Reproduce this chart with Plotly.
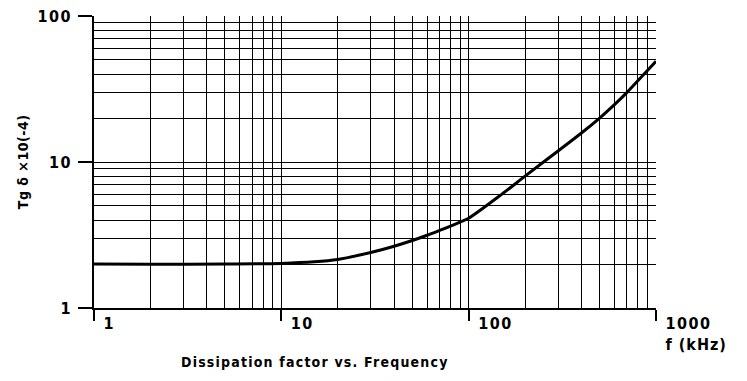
import plotly.graph_objects as go

freq_khz = [1, 2, 5, 10, 15, 20, 30, 40, 50, 60, 70, 80, 90, 100, 150, 200, 300, 400, 500, 600, 700, 800, 900, 1000]
tg_delta = [2.0, 1.99, 2.0, 2.02, 2.07, 2.15, 2.4, 2.65, 2.9, 3.15, 3.4, 3.64, 3.88, 4.12, 6.0, 8.0, 11.9, 15.8, 20.0, 24.7, 30.0, 36.0, 42.3, 49.0]

x_major = [1, 10, 100, 1000]
x_major_text = ["1", "10", "100", "1000"]
x_unit = "f (kHz)"
y_major = [1, 10, 100]
y_major_text = ["1", "10", "100"]
minor_x = [m * d for d in (1, 10, 100) for m in range(2, 10)]
minor_y = [m * d for d in (1, 10) for m in range(2, 10)]

title_text = "Dissipation factor vs. Frequency"
y_title = "Tg δ ×10(-4)"

FONT = "DejaVu Sans Condensed, Liberation Sans Narrow, Arial Narrow, sans-serif"

def sp(t, ls=2):
    return f'<span style="letter-spacing:{ls}px">{t}</span>'

xt = [sp(t, 1.5) for t in x_major_text]
xt[-1] = xt[-1] + "<br>" + sp(x_unit, 1.0)

fig = go.Figure()
fig.add_trace(go.Scatter(
    x=freq_khz, y=tg_delta, mode="lines",
    line=dict(color="black", width=3, shape="spline", smoothing=0.8),
    hoverinfo="skip", showlegend=False,
))

fig.update_xaxes(
    type="log", range=[0, 3], automargin=False,
    tickmode="array", tickvals=x_major, ticktext=xt,
    ticks="outside", ticklen=11, tickwidth=1.5, tickcolor="black",
    ticklabelposition="outside right", ticklabelshift=8,
    ticklabeloverflow="allow",
    showline=True, linecolor="black", linewidth=1.5, mirror=False,
    showgrid=True, gridcolor="black", gridwidth=1.2,
    minor=dict(tickmode="array", tickvals=minor_x, showgrid=True,
               gridcolor="black", gridwidth=1.2, ticks=""),
    tickfont=dict(family=FONT, size=16, color="black", weight="bold"),
    zeroline=False,
)
fig.update_yaxes(
    type="log", range=[0, 2], automargin=False,
    tickmode="array", tickvals=y_major, ticktext=[sp(t, 1.5) for t in y_major_text],
    ticks="outside", ticklen=14, tickwidth=1.5, tickcolor="black",
    ticklabelstandoff=3, ticklabeloverflow="allow",
    showline=True, linecolor="black", linewidth=1.5,
    showgrid=True, gridcolor="black", gridwidth=1.2,
    minor=dict(tickmode="array", tickvals=minor_y, showgrid=True,
               gridcolor="black", gridwidth=1.2, ticks=""),
    tickfont=dict(family=FONT, size=16, color="black", weight="bold"),
    zeroline=False,
)

fig.add_annotation(
    text=sp(title_text, 1.2), xref="paper", yref="paper",
    x=0.393, y=-0.185, xanchor="center", yanchor="middle", showarrow=False,
    font=dict(family=FONT, size=14, color="black", weight="bold"),
)
fig.add_annotation(
    text=sp(y_title, 0.5), xref="paper", yref="paper",
    x=-0.126, y=0.5, xanchor="center", yanchor="middle", textangle=-90, showarrow=False,
    font=dict(family=FONT, size=14, color="black", weight="bold"),
)

fig.update_layout(
    width=747, height=381,
    margin=dict(l=86, r=99, t=8, b=81),
    paper_bgcolor="white", plot_bgcolor="white",
)
fig.write_html("out.html")
